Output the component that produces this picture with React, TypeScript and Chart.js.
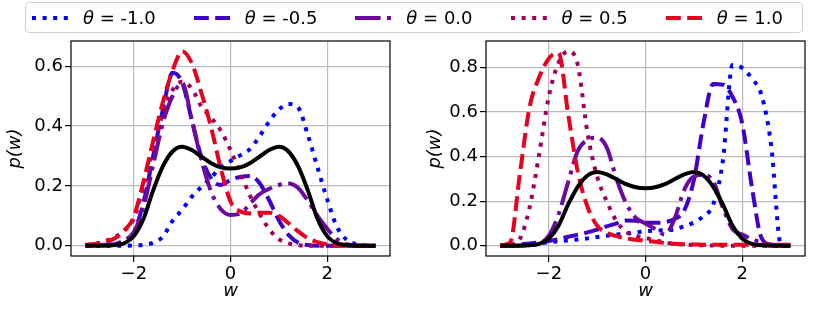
import React, { useEffect, useRef } from "react";
import { Chart, registerables } from "chart.js";

Chart.register(...registerables);

// sample positions of w
const W = [-3.0, -2.8, -2.6, -2.4, -2.2, -2.0, -1.8, -1.6, -1.4, -1.2, -1.0, -0.8, -0.6, -0.4, -0.2, 0.0, 0.2, 0.4, 0.6, 0.8, 1.0, 1.2, 1.4, 1.6, 1.8, 2.0, 2.2, 2.4, 2.6, 2.8, 3.0];

// target density (black, both panels)
const TARGET = [0, 0, 0, 0.002, 0.008, 0.032, 0.09, 0.185, 0.265, 0.315, 0.331, 0.32, 0.298, 0.276, 0.262, 0.258, 0.262, 0.276, 0.298, 0.32, 0.331, 0.315, 0.265, 0.185, 0.09, 0.032, 0.008, 0.002, 0, 0, 0];

// left panel
const L_M10 = [0, 0, 0, 0, 0, 0.001, 0.003, 0.01, 0.03, 0.083, 0.12, 0.164, 0.197, 0.228, 0.262, 0.283, 0.302, 0.323, 0.365, 0.415, 0.455, 0.474, 0.462, 0.37, 0.262, 0.155, 0.064, 0.02, 0.005, 0.001, 0];
const L_M05 = [0.001, 0.002, 0.003, 0.005, 0.015, 0.045, 0.145, 0.3, 0.455, 0.578, 0.545, 0.42, 0.295, 0.225, 0.203, 0.22, 0.23, 0.233, 0.21, 0.152, 0.085, 0.036, 0.01, 0.002, 0, 0, 0, 0, 0, 0, 0];
const L_00 = [0.001, 0.002, 0.003, 0.006, 0.018, 0.045, 0.13, 0.27, 0.41, 0.5, 0.545, 0.42, 0.285, 0.18, 0.122, 0.103, 0.107, 0.14, 0.172, 0.19, 0.203, 0.208, 0.193, 0.15, 0.1, 0.057, 0.022, 0.005, 0.001, 0, 0];
const L_P05 = [0.002, 0.006, 0.015, 0.028, 0.05, 0.09, 0.2, 0.33, 0.44, 0.52, 0.548, 0.525, 0.465, 0.428, 0.385, 0.32, 0.245, 0.168, 0.107, 0.055, 0.022, 0.008, 0.002, 0, 0, 0, 0, 0, 0, 0, 0];
const L_P10 = [0.003, 0.006, 0.013, 0.024, 0.05, 0.097, 0.215, 0.35, 0.48, 0.585, 0.65, 0.61, 0.51, 0.395, 0.258, 0.148, 0.115, 0.108, 0.11, 0.11, 0.1, 0.075, 0.048, 0.025, 0.012, 0.005, 0.001, 0, 0, 0, 0];

// right panel
const R_M10 = [0, 0.001, 0.003, 0.006, 0.01, 0.016, 0.02, 0.024, 0.028, 0.033, 0.039, 0.045, 0.05, 0.055, 0.06, 0.065, 0.068, 0.07, 0.072, 0.088, 0.104, 0.133, 0.185, 0.38, 0.81, 0.797, 0.75, 0.675, 0.45, 0.007, 0];
const R_M05 = [0.001, 0.003, 0.006, 0.01, 0.015, 0.021, 0.03, 0.04, 0.05, 0.06, 0.072, 0.087, 0.1, 0.113, 0.112, 0.103, 0.103, 0.106, 0.12, 0.157, 0.294, 0.55, 0.725, 0.722, 0.668, 0.549, 0.265, 0.035, 0.005, 0.002, 0.001];
const R_00 = [0, 0, 0.001, 0.003, 0.01, 0.045, 0.14, 0.285, 0.425, 0.475, 0.485, 0.44, 0.3, 0.19, 0.125, 0.1, 0.075, 0.05, 0.12, 0.25, 0.31, 0.318, 0.29, 0.17, 0.075, 0.05, 0.03, 0.015, 0.006, 0.002, 0];
const R_P05 = [0.001, 0.004, 0.03, 0.17, 0.41, 0.67, 0.82, 0.872, 0.81, 0.505, 0.31, 0.198, 0.11, 0.063, 0.045, 0.035, 0.025, 0.015, 0.008, 0.005, 0.003, 0.002, 0.001, 0, 0, 0, 0, 0, 0, 0, 0];
const R_P10 = [0.002, 0.015, 0.32, 0.62, 0.755, 0.84, 0.865, 0.59, 0.33, 0.175, 0.09, 0.058, 0.043, 0.033, 0.027, 0.022, 0.018, 0.012, 0.009, 0.007, 0.006, 0.005, 0.005, 0.004, 0.004, 0.004, 0.004, 0.004, 0.004, 0.004, 0.004];

const THETA_LABELS = ["-1.0", "-0.5", "0.0", "0.5", "1.0"];
const COLORS = ["#0000ff", "#4000c8", "#6c0aa0", "#a3005e", "#e8001e"];
const DASHES = [
  [4, 6.6],
  [14.8, 6.4],
  [25.6, 6.4, 4, 6.4],
  [4, 6.6],
  [14.8, 6.4],
];

const X_TICKS = [-2, 0, 2];
const X_RANGE = [-3.3, 3.3];
const Y_TICKS_LEFT = [0, 0.2, 0.4, 0.6];
const Y_TICKS_RIGHT = [0, 0.2, 0.4, 0.6, 0.8];
const Y_RANGE_LEFT = [-0.0345, 0.6846];
const Y_RANGE_RIGHT = [-0.046, 0.918];

const FONT = "'DejaVu Sans', sans-serif";
const LW = 4;

const framePlugin = {
  id: "frame",
  afterDatasetsDraw(chart: any) {
    const { ctx, chartArea } = chart;
    const { left, top, right, bottom } = chartArea;
    ctx.save();
    ctx.strokeStyle = "#000";
    ctx.lineWidth = 1.2;
    ctx.strokeRect(left, top, right - left, bottom - top);
    ctx.restore();
  },
};

type PanelProps = {
  series: number[][];
  yTicks: number[];
  yRange: number[];
  left: number;
  width: number;
  padLeft: number;
  yAxisWidth: number;
  padRight: number;
};

function Panel(props: PanelProps) {
  const ref = useRef<HTMLCanvasElement | null>(null);
  useEffect(() => {
    if (!ref.current) return;
    const datasets: any[] = [];
    datasets.push({
      label: "target",
      data: W.map((x, i) => ({ x, y: TARGET[i] })),
      borderColor: "#000000",
      borderWidth: LW,
      pointRadius: 0,
      fill: false,
      cubicInterpolationMode: "monotone",
      order: 0,
    });
    props.series.forEach((s, k) => {
      datasets.push({
        label: "θ = " + THETA_LABELS[k],
        data: W.map((x, i) => ({ x, y: s[i] })),
        borderColor: COLORS[k],
        borderWidth: LW,
        borderDash: DASHES[k],
        borderCapStyle: "butt",
        pointRadius: 0,
        fill: false,
        cubicInterpolationMode: "monotone",
        order: 5 - k,
      });
    });
    const chart = new Chart(ref.current, {
      type: "line",
      data: { datasets },
      plugins: [framePlugin],
      options: {
        animation: false,
        responsive: false,
        maintainAspectRatio: false,
        layout: { padding: { left: props.padLeft, right: props.padRight, top: 41, bottom: 0 } },
        plugins: { legend: { display: false }, tooltip: { enabled: false } },
        scales: {
          x: {
            type: "linear",
            min: X_RANGE[0],
            max: X_RANGE[1],
            afterBuildTicks: (scale: any) => {
              scale.ticks = X_TICKS.map((v) => ({ value: v }));
            },
            afterFit: (scale: any) => {
              scale.height = 59;
            },
            ticks: {
              autoSkip: false,
              maxRotation: 0,
              padding: 2,
              color: "#000",
              font: { family: FONT, size: 18 },
              callback: (v: any) => (v < 0 ? "\u2212" + Math.abs(v) : String(v)),
            },
            grid: { color: "#bcbcbc", lineWidth: 1.2, tickColor: "#000", tickLength: 6, tickWidth: 1.2, drawTicks: true },
            border: { display: false },
            title: {
              display: true,
              text: "w",
              color: "#000",
              font: { family: FONT, size: 18, style: "italic", lineHeight: 1.2 },
              padding: { top: 0, bottom: 12.5 },
            },
          },
          y: {
            type: "linear",
            min: props.yRange[0],
            max: props.yRange[1],
            afterBuildTicks: (scale: any) => {
              scale.ticks = props.yTicks.map((v) => ({ value: v }));
            },
            afterFit: (scale: any) => {
              scale.width = props.yAxisWidth;
            },
            ticks: {
              autoSkip: false,
              padding: 2,
              color: "#000",
              font: { family: FONT, size: 18 },
              callback: (v: any) => Number(v).toFixed(1),
            },
            grid: { color: "#bcbcbc", lineWidth: 1.2, tickColor: "#000", tickLength: 6, tickWidth: 1.2, drawTicks: true },
            border: { display: false },
            title: {
              display: true,
              text: "p(w)",
              color: "#000",
              font: { family: FONT, size: 18, style: "italic", lineHeight: 1.2 },
              padding: { top: 4.2, bottom: 0 },
            },
          },
        },
      } as any,
    });
    return () => chart.destroy();
  }, []);
  return (
    <canvas
      ref={ref}
      width={props.width}
      height={315}
      style={{ position: "absolute", left: props.left, top: 0, width: props.width, height: 315 }}
    />
  );
}

function LegendHandle({ color, dash }: { color: string; dash: number[] }) {
  return (
    <svg width={36} height={8} style={{ display: "block" }}>
      <line x1={0} y1={4} x2={36} y2={4} stroke={color} strokeWidth={LW} strokeDasharray={dash.join(" ")} strokeLinecap="butt" />
    </svg>
  );
}

export default function App() {
  return (
    <div style={{ position: "fixed", left: 0, top: 0, width: 823, height: 315, background: "#fff", overflow: "hidden" }}>
      <Panel series={[L_M10, L_M05, L_00, L_P05, L_P10]} yTicks={Y_TICKS_LEFT} yRange={Y_RANGE_LEFT} left={0} width={411} padLeft={0} yAxisWidth={71} padRight={21} />
      <Panel series={[R_M10, R_M05, R_00, R_P05, R_P10]} yTicks={Y_TICKS_RIGHT} yRange={Y_RANGE_RIGHT} left={411} width={412} padLeft={9} yAxisWidth={66} padRight={18} />
      <div
        style={{
          position: "absolute",
          left: 25,
          top: 2,
          width: 770,
          height: 29,
          border: "1px solid #d0d0d0",
          borderRadius: 4,
          background: "rgba(255,255,255,0.85)",
          display: "flex",
          alignItems: "center",
          paddingLeft: 6,
          boxSizing: "content-box",
          fontFamily: FONT,
          fontSize: 18,
          color: "#000",
          whiteSpace: "nowrap",
        }}
      >
        {THETA_LABELS.map((t, k) => (
          <div key={t} style={{ display: "flex", alignItems: "center", marginRight: 38 }}>
            <LegendHandle color={COLORS[k]} dash={DASHES[k]} />
            <span style={{ marginLeft: 15 }}>
              <i>θ</i> = {t}
            </span>
          </div>
        ))}
      </div>
    </div>
  );
}
